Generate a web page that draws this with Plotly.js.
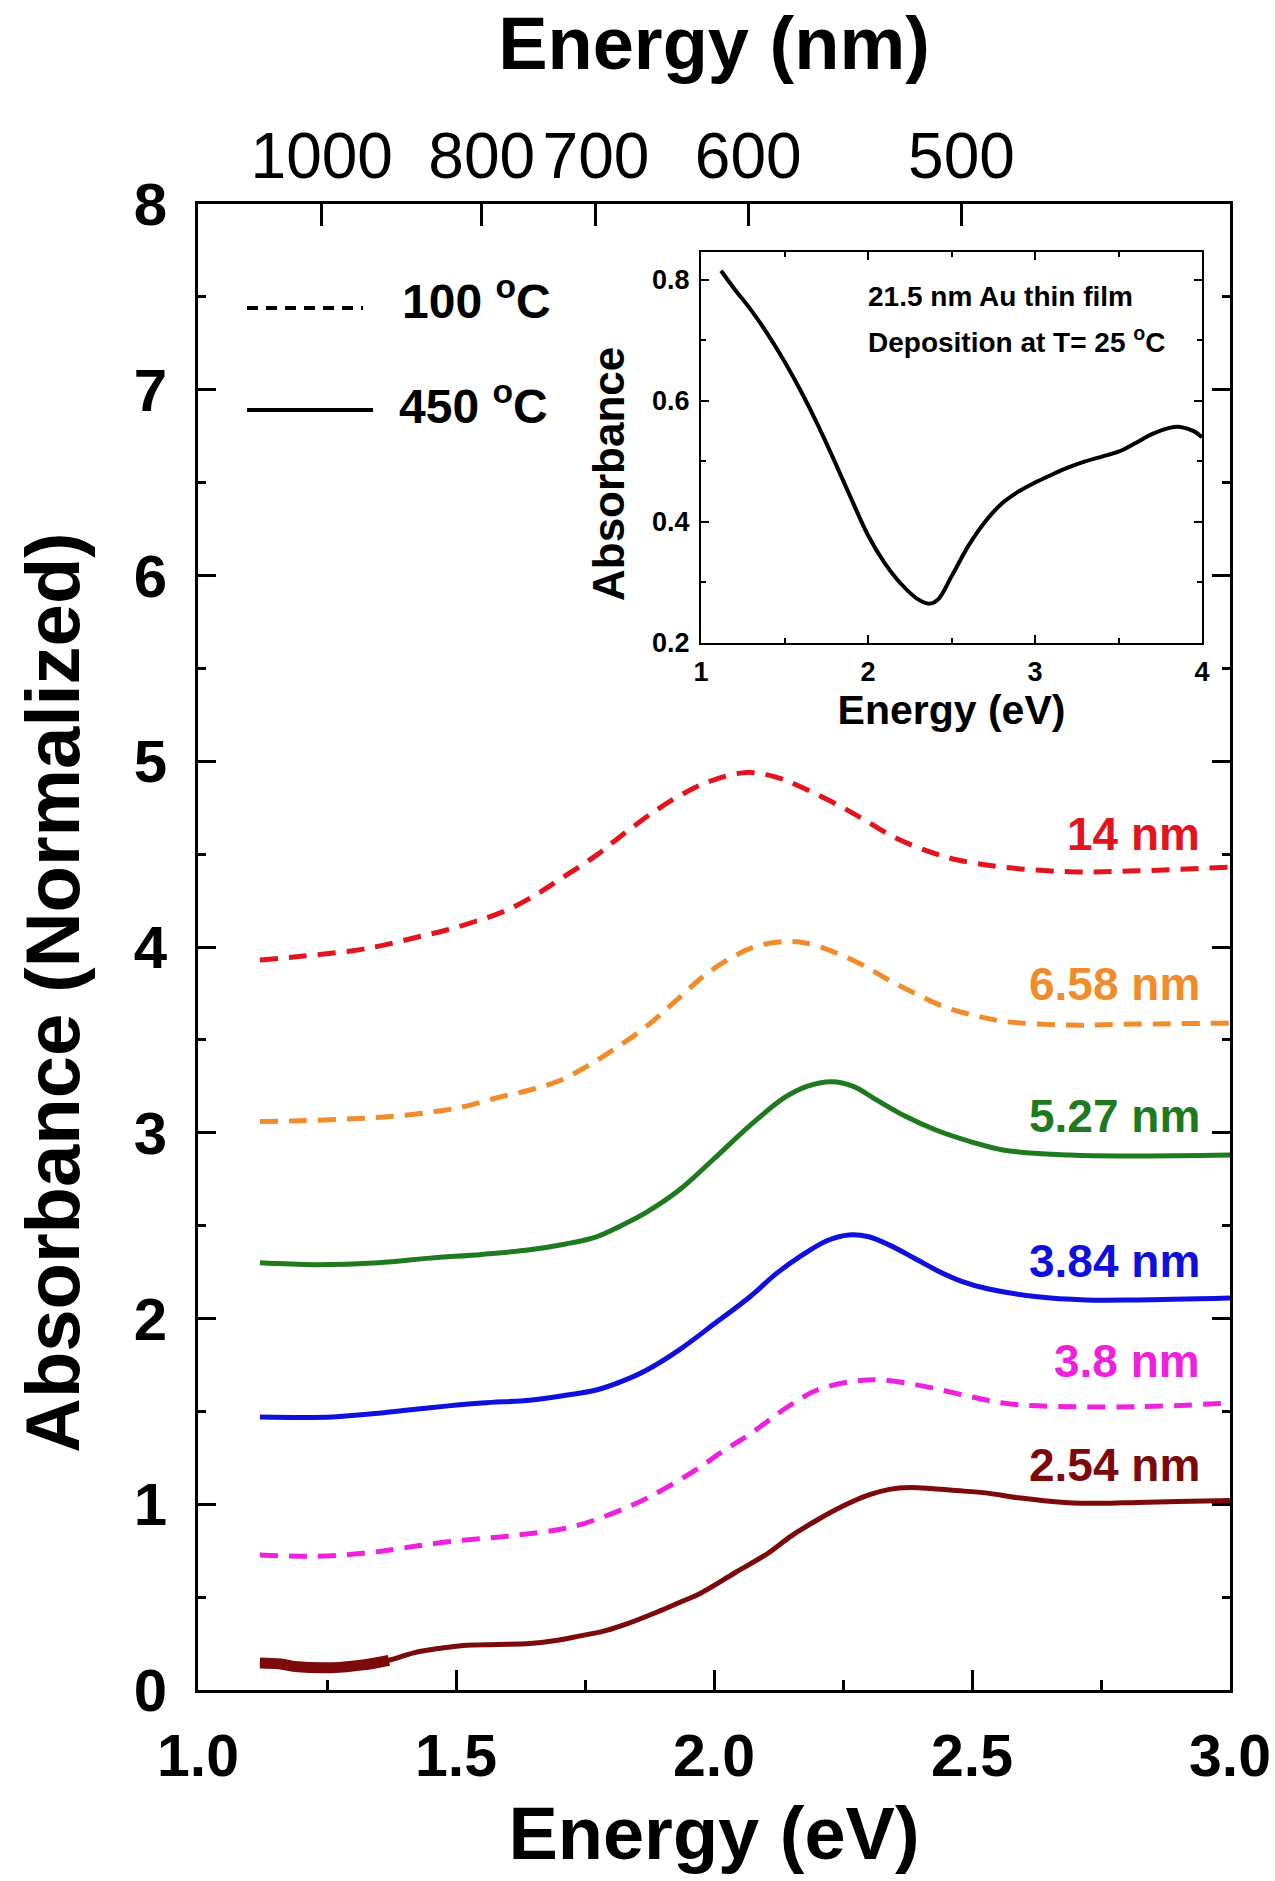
<!DOCTYPE html>
<html><head><meta charset="utf-8">
<script src="https://cdn.plot.ly/plotly-3.0.1.min.js"></script>
<style>html,body{margin:0;padding:0;background:#fff}</style>
</head><body><div id="chart" style="width:1275px;height:1881px"></div>
<script>
// ---- Data ----
const e14 = [1.12,1.2,1.3,1.36,1.42,1.48,1.54,1.6,1.66,1.71,1.775,1.83,1.89,1.95,2.0,2.064,2.12,2.17,2.25,2.3,2.35,2.41,2.47,2.56,2.69,2.82,3.0];
const a14 = [3.93,3.95,3.98,4.01,4.05,4.09,4.14,4.20,4.29,4.38,4.50,4.62,4.74,4.84,4.90,4.94,4.915,4.86,4.75,4.67,4.59,4.52,4.47,4.43,4.405,4.41,4.43];

const e658 = [1.12,1.2,1.3,1.36,1.45,1.514,1.578,1.643,1.7,1.752,1.804,1.868,1.926,1.983,2.045,2.09,2.14,2.18,2.235,2.29,2.34,2.39,2.444,2.5,2.56,2.69,2.82,3.0];
const a658 = [3.06,3.065,3.075,3.085,3.11,3.14,3.187,3.23,3.28,3.355,3.445,3.57,3.71,3.85,3.96,4.01,4.03,4.02,3.97,3.90,3.82,3.75,3.68,3.635,3.60,3.58,3.585,3.59];

const e527 = [1.12,1.225,1.35,1.45,1.55,1.643,1.71,1.772,1.82,1.868,1.932,2.0,2.07,2.137,2.18,2.228,2.27,2.313,2.37,2.43,2.5,2.56,2.69,2.82,3.0];
const a527 = [2.30,2.29,2.30,2.325,2.345,2.37,2.40,2.44,2.50,2.57,2.69,2.86,3.04,3.19,3.25,3.275,3.25,3.18,3.09,3.015,2.95,2.907,2.88,2.875,2.88];

const e384 = [1.12,1.26,1.35,1.45,1.55,1.643,1.71,1.772,1.82,1.868,1.932,2.0,2.071,2.12,2.17,2.22,2.261,2.3,2.34,2.385,2.431,2.48,2.53,2.627,2.72,2.82,3.0];
const a384 = [1.47,1.47,1.49,1.52,1.545,1.56,1.585,1.615,1.66,1.72,1.83,1.97,2.12,2.24,2.34,2.42,2.45,2.44,2.395,2.33,2.26,2.20,2.16,2.117,2.10,2.10,2.11];

const e38 = [1.12,1.225,1.32,1.4,1.488,1.605,1.727,1.835,1.9,1.964,2.02,2.071,2.143,2.2,2.265,2.32,2.398,2.496,2.56,2.627,2.82,3.0];
const a38 = [0.727,0.72,0.736,0.765,0.80,0.83,0.88,0.987,1.077,1.184,1.29,1.38,1.525,1.615,1.66,1.67,1.64,1.58,1.545,1.53,1.525,1.545];

const e254 = [1.12,1.16,1.193,1.26,1.32,1.37,1.418,1.47,1.514,1.58,1.643,1.69,1.738,1.79,1.835,1.89,1.932,1.973,2.04,2.104,2.15,2.2,2.25,2.3,2.34,2.379,2.42,2.463,2.53,2.59,2.68,2.75,2.82,2.9,3.0];
const a254 = [0.145,0.14,0.125,0.12,0.135,0.16,0.20,0.225,0.24,0.245,0.25,0.265,0.29,0.32,0.36,0.42,0.47,0.52,0.63,0.735,0.83,0.915,0.99,1.05,1.08,1.09,1.085,1.075,1.06,1.035,1.01,1.005,1.01,1.015,1.02];

const seriesNames = ['14 nm','6.58 nm','5.27 nm','3.84 nm','3.8 nm','2.54 nm'];
const seriesTemp = [100,100,450,450,100,450];   // annealing temperature (°C)
const seriesLabelY = [4.61,3.80,3.09,2.31,1.77,1.21];

const nmTicks = [1000,800,700,600,500];

const insetE = [1.12,1.2,1.3,1.4,1.5,1.6,1.7,1.8,1.9,2.0,2.1,2.2,2.3,2.37,2.42,2.5,2.6,2.7,2.8,2.9,3.0,3.1,3.2,3.3,3.4,3.5,3.6,3.7,3.8,3.87,3.95,4.0];
const insetA = [0.815,0.785,0.75,0.71,0.665,0.615,0.56,0.50,0.438,0.378,0.332,0.297,0.272,0.265,0.272,0.31,0.36,0.40,0.43,0.45,0.465,0.478,0.49,0.50,0.508,0.516,0.53,0.545,0.555,0.557,0.55,0.54];

// ---- Styling ----
const FONT = 'Arial, "Liberation Sans", Helvetica, sans-serif';
const colors = ['#e3141e','#f08c2a','#1f7a1f','#1010dd','#ee22dd','#7d0a0a'];
const X = [e14,e658,e527,e384,e38,e254];
const Y = [a14,a658,a527,a384,a38,a254];

const traces = [];
for (let i = 0; i < 6; i++) {
  traces.push({
    x: X[i], y: Y[i], type: 'scatter', mode: 'lines', name: seriesNames[i],
    line: {color: colors[i], width: 5, shape: 'spline', smoothing: 1,
           dash: seriesTemp[i] === 100 ? '18px,11px' : 'solid'},
    showlegend: false, xaxis: 'x', yaxis: 'y'
  });
}
// noisy low-energy part of the 2.54 nm spectrum, drawn thicker
const noisyN = e254.filter(v => v <= 1.37).length;
traces.push({
  x: e254.slice(0, noisyN), y: a254.slice(0, noisyN), type: 'scatter', mode: 'lines',
  line: {color: colors[5], width: 11, shape: 'spline'}, showlegend: false, hoverinfo: 'skip'
});
// top wavelength axis anchor trace (no visible marks)
traces.push({
  x: nmTicks.map(n => 1239.84 / n), y: nmTicks.map(() => null), type: 'scatter', mode: 'markers',
  marker: {opacity: 0}, xaxis: 'x2', yaxis: 'y', showlegend: false, hoverinfo: 'skip'
});
// inset
traces.push({
  x: insetE, y: insetA, type: 'scatter', mode: 'lines', line: {color: '#000', width: 4, shape: 'spline'},
  xaxis: 'x3', yaxis: 'y3', showlegend: false
});

const axBase = {
  showgrid: false, zeroline: false, showline: true, linecolor: '#000', linewidth: 3,
  ticks: 'inside', tickcolor: '#000', tickwidth: 3
};

const layout = {
  width: 1275, height: 1881,
  margin: {l: 198, r: 45, t: 204, b: 191},
  paper_bgcolor: '#fff', plot_bgcolor: '#fff',
  font: {family: FONT, color: '#000'},
  showlegend: false,
  xaxis: Object.assign({}, axBase, {
    range: [1, 3], dtick: 0.5, tick0: 1, tickformat: '.1f', mirror: true, ticklen: 20,
    minor: {ticks: 'inside', ticklen: 10, dtick: 0.25, tickwidth: 3, tickcolor: '#000'},
    tickfont: {size: 59, weight: 'bold', family: FONT}, ticklabelstandoff: 12,
    title: {text: 'Energy (eV)', font: {size: 74, weight: 'bold', family: FONT}, standoff: 20}
  }),
  xaxis2: Object.assign({}, axBase, {
    overlaying: 'x', side: 'top', anchor: 'y', range: [1, 3], showline: false,
    tickmode: 'array', tickvals: nmTicks.map(n => 1239.84 / n), ticktext: nmTicks.map(String),
    ticklen: 22, tickfont: {size: 64, family: FONT}, ticklabelstandoff: 12,
    title: {text: 'Energy (nm)', font: {size: 74, weight: 'bold', family: FONT}, standoff: 26}
  }),
  yaxis: Object.assign({}, axBase, {
    range: [0, 8], dtick: 1, tick0: 0, mirror: 'ticks', ticklen: 18,
    minor: {ticks: 'inside', ticklen: 8, dtick: 0.5, tickwidth: 3, tickcolor: '#000'},
    tickfont: {size: 60, weight: 'bold', family: FONT}, ticklabelstandoff: 16
  }),
  xaxis3: Object.assign({}, axBase, {
    domain: [0.4874, 0.9729], anchor: 'y3', range: [1, 4], dtick: 1, tick0: 1,
    linewidth: 2, tickwidth: 2, ticklen: 8, mirror: 'ticks',
    minor: {ticks: 'inside', ticklen: 5, dtick: 0.5, tickwidth: 2, tickcolor: '#000'},
    tickfont: {size: 27, weight: 'bold', family: FONT}, ticklabelstandoff: 4,
    title: {text: 'Energy (eV)', font: {size: 41, weight: 'bold', family: FONT}, standoff: 2}
  }),
  yaxis3: Object.assign({}, axBase, {
    domain: [0.7046, 0.9677], anchor: 'x3', range: [0.2, 0.846], dtick: 0.2, tick0: 0.2,
    tickformat: '.1f', linewidth: 2, tickwidth: 2, ticklen: 8, mirror: 'ticks',
    minor: {ticks: 'inside', ticklen: 5, dtick: 0.1, tickwidth: 2, tickcolor: '#000'},
    tickfont: {size: 27, weight: 'bold', family: FONT}, ticklabelstandoff: 4
  }),
  shapes: [
    {type: 'line', xref: 'paper', yref: 'paper', x0: 0.0475, x1: 0.1599, y0: 0.930, y1: 0.930,
     line: {color: '#000', width: 4, dash: '11px,8px'}},
    {type: 'line', xref: 'paper', yref: 'paper', x0: 0.0475, x1: 0.1696, y0: 0.8614, y1: 0.8614,
     line: {color: '#000', width: 4}}
  ],
  annotations: [
    // main y-axis title
    {xref: 'paper', yref: 'paper', x: -0.1415, y: 0.4697, xanchor: 'center', yanchor: 'middle', showarrow: false,
     textangle: -90, text: 'Absorbance (Normalized)', font: {size: 76, weight: 'bold', family: FONT}},
    // inset y-axis title
    {xref: 'paper', yref: 'paper', x: 0.3973, y: 0.8183, xanchor: 'center', yanchor: 'middle', showarrow: false,
     textangle: -90, text: 'Absorbance', font: {size: 44, weight: 'bold', family: FONT}},
    {xref: 'paper', yref: 'paper', x: 0.1957, y: 0.937, xanchor: 'left', yanchor: 'middle', showarrow: false,
     text: '100 <sup>o</sup>C', font: {size: 48, weight: 'bold', family: FONT}},
    {xref: 'paper', yref: 'paper', x: 0.1928, y: 0.866, xanchor: 'left', yanchor: 'middle', showarrow: false,
     text: '450 <sup>o</sup>C', font: {size: 48, weight: 'bold', family: FONT}},
    {xref: 'x3', yref: 'y3', x: 1.99, y: 0.772, xanchor: 'left', yanchor: 'middle', showarrow: false,
     text: '21.5 nm Au thin film', font: {size: 28, weight: 'bold', family: FONT}},
    {xref: 'x3', yref: 'y3', x: 1.99, y: 0.70, xanchor: 'left', yanchor: 'middle', showarrow: false,
     text: 'Deposition at T= 25 <sup>o</sup>C', font: {size: 28, weight: 'bold', family: FONT}}
  ].concat(seriesNames.map((s, i) => ({
     xref: 'x', yref: 'y', x: 2.945, y: seriesLabelY[i], xanchor: 'right', yanchor: 'middle', showarrow: false,
     text: s, font: {size: 46, weight: 'bold', family: FONT, color: colors[i]}
  })))
};

Plotly.newPlot('chart', traces, layout, {staticPlot: true, displayModeBar: false});
</script>
</body></html>
